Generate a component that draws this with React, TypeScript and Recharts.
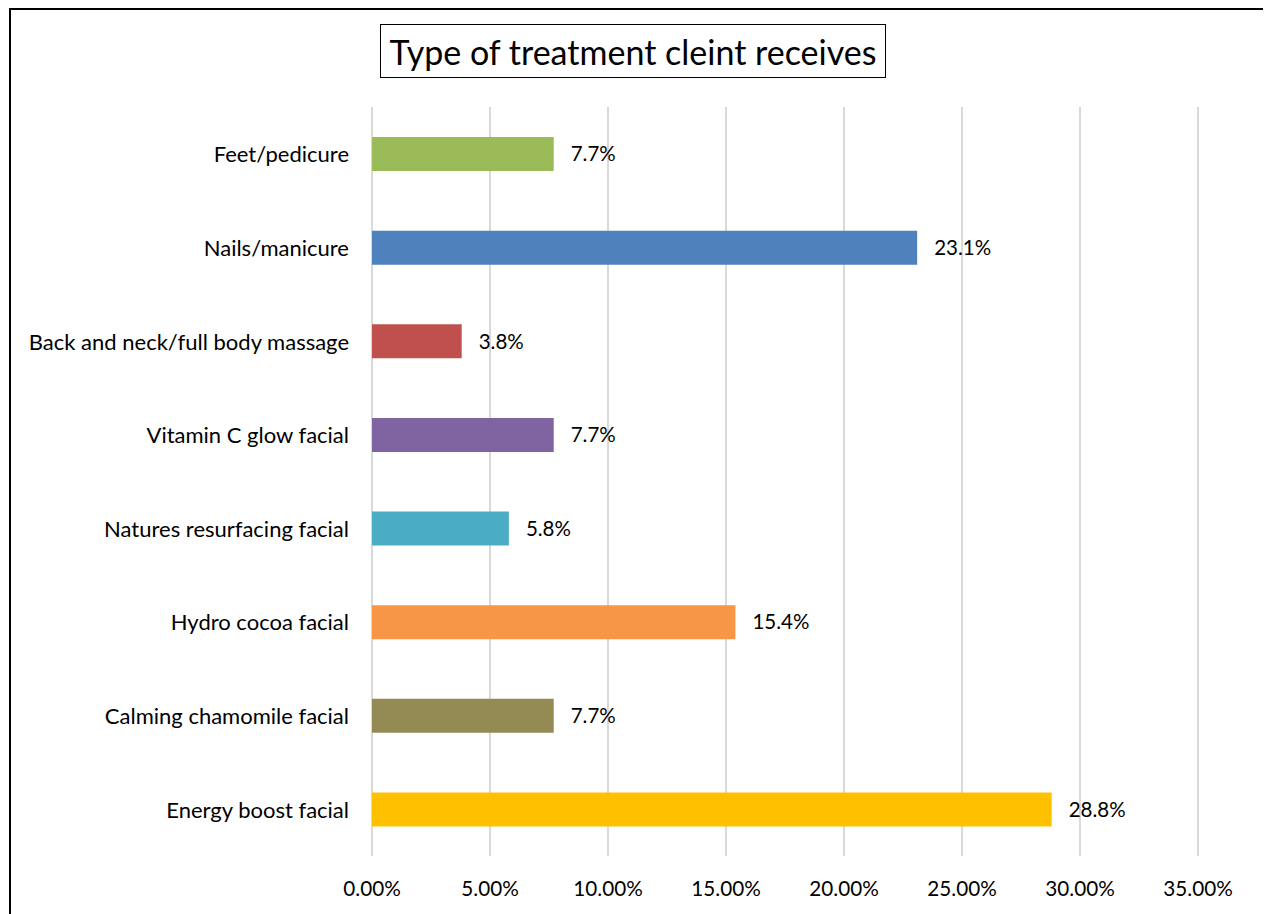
import React from "react";
import { Bar, BarChart, CartesianGrid, Cell, LabelList, XAxis, YAxis } from "recharts";

const treatments = [
  "Feet/pedicure",
  "Nails/manicure",
  "Back and neck/full body massage",
  "Vitamin C glow facial",
  "Natures resurfacing facial",
  "Hydro cocoa facial",
  "Calming chamomile facial",
  "Energy boost facial"
];

const shares = [7.7, 23.1, 3.8, 7.7, 5.8, 15.4, 7.7, 28.8];

const barColors = [
  "#9BBB59",
  "#4F81BD",
  "#C0504D",
  "#8064A2",
  "#4BACC6",
  "#F79646",
  "#948A54",
  "#FFC000"
];

const xTicks = [0, 5, 10, 15, 20, 25, 30, 35];

const chartTitle = "Type of treatment cleint receives";

const FONT = "Lato, 'Open Sans', sans-serif";

const chartData = treatments.map((name, i) => ({ name, value: shares[i] }));

type TickProps = {
  x?: number;
  y?: number;
  payload?: { value: string | number };
};

function CategoryTick(props: TickProps): React.JSX.Element {
  return (
    <text
      x={props.x}
      y={props.y}
      textAnchor="end"
      dominantBaseline="central"
      fontFamily={FONT}
      fontSize={22}
      fill="#000"
    >
      {props.payload?.value}
    </text>
  );
}

function PercentTick(props: TickProps): React.JSX.Element {
  return (
    <text
      x={props.x}
      y={props.y}
      textAnchor="middle"
      dominantBaseline="central"
      fontFamily={FONT}
      fontSize={20.7}
      fill="#000"
    >
      {Number(props.payload?.value).toFixed(2)}%
    </text>
  );
}

export default function App(): React.JSX.Element {
  return (
    <div style={{ position: "relative", width: 1255, height: 906, background: "#fff" }}>
      <div
        style={{
          position: "absolute",
          left: 1,
          top: 0,
          width: 1257,
          height: 940,
          boxSizing: "border-box",
          border: "2px solid #000"
        }}
      />
      <div
        style={{
          position: "absolute",
          left: 372,
          top: 16,
          width: 506,
          height: 54,
          boxSizing: "border-box",
          border: "1.5px solid #000",
          display: "flex",
          alignItems: "center",
          justifyContent: "center",
          fontFamily: FONT,
          fontSize: 34,
          color: "#000",
          whiteSpace: "nowrap"
        }}
      >
        {chartTitle}
      </div>
      <div style={{ position: "absolute", left: 0, top: 0 }}>
        <BarChart
          width={1255}
          height={906}
          data={chartData}
          layout="vertical"
          margin={{ top: 99, right: 65, left: 0, bottom: 0 }}
        >
          <CartesianGrid horizontal={false} stroke="#D9D9D9" strokeWidth={2} />
          <XAxis
            type="number"
            domain={[0, 35]}
            ticks={xTicks}
            axisLine={false}
            tickLine={false}
            tickSize={0}
            tickMargin={32}
            height={58}
            tick={<PercentTick />}
            interval={0}
          />
          <YAxis
            type="category"
            dataKey="name"
            width={364}
            axisLine={false}
            tickLine={false}
            tickSize={0}
            tickMargin={23}
            tick={<CategoryTick />}
            interval={0}
          />
          <Bar dataKey="value" barSize={34} isAnimationActive={false}>
            {chartData.map((d, i) => (
              <Cell key={d.name} fill={barColors[i]} />
            ))}
            <LabelList
              dataKey="value"
              position="right"
              offset={17}
              fontFamily={FONT}
              fontSize={20.5}
              fill="#000"
              formatter={(v: unknown) => `${Number(v).toFixed(1)}%`}
            />
          </Bar>
        </BarChart>
      </div>
    </div>
  );
}
